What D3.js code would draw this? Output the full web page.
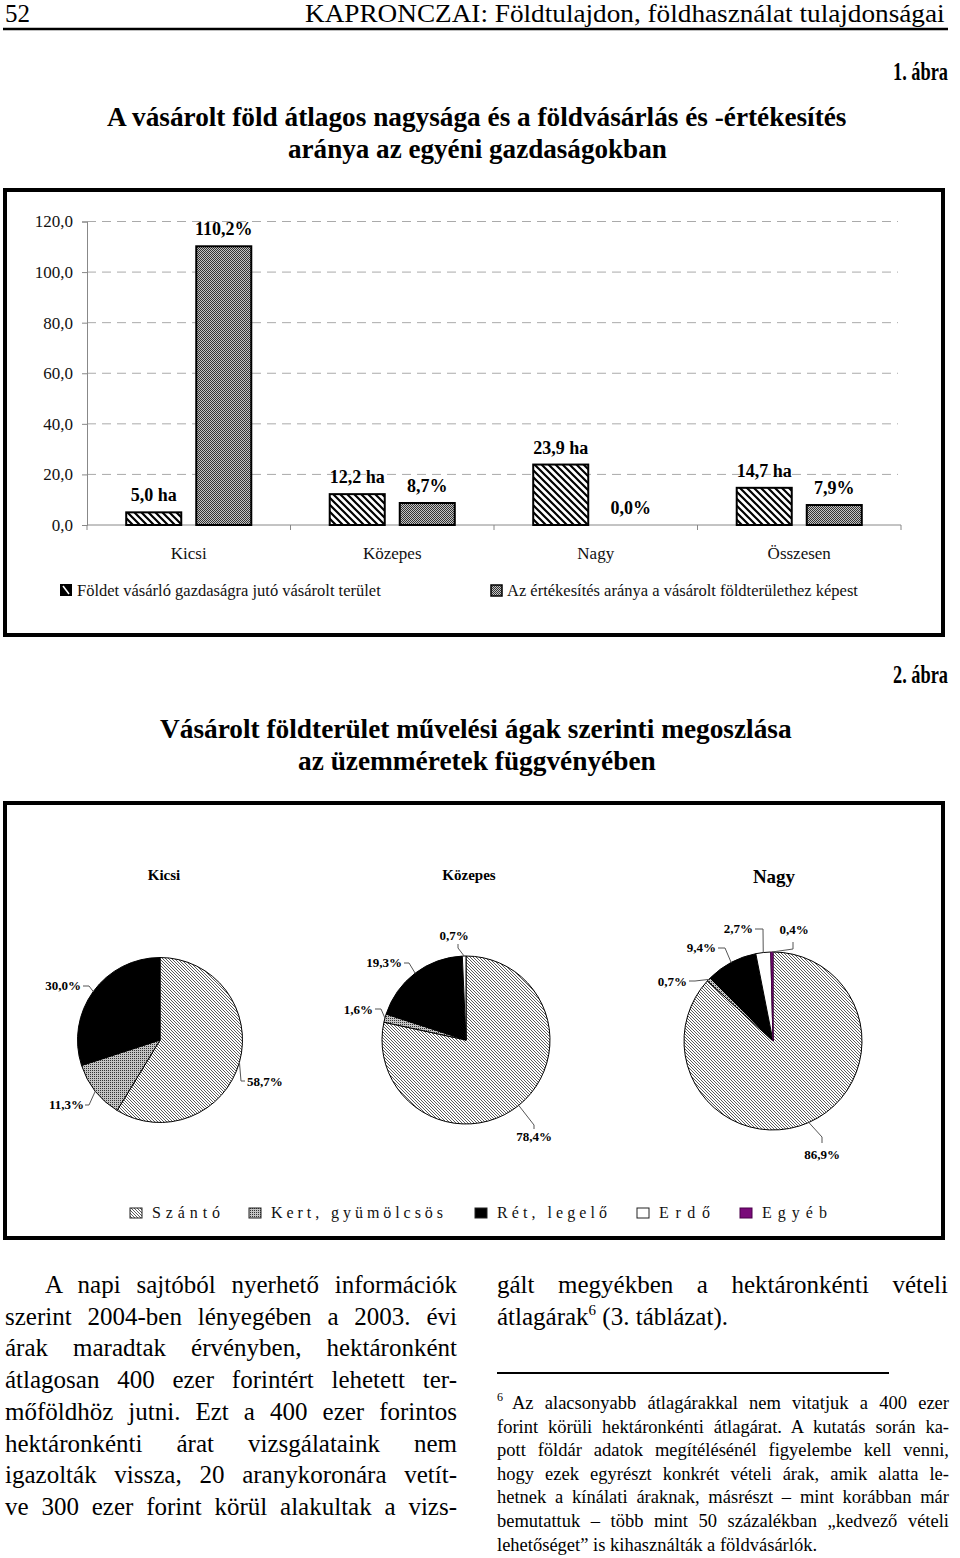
<!DOCTYPE html>
<html><head><meta charset="utf-8">
<script src="https://cdn.jsdelivr.net/npm/d3@7"></script>
<style>body{margin:0;background:#fff} svg{display:block}</style>
</head><body>
<svg id="c" width="960" height="1558"></svg>
<script>
// ---------- DATA ----------
const categories = ["Kicsi", "Közepes", "Nagy", "Összesen"];
const areaPerFarm = [5.0, 12.2, 23.9, 14.7];      // ha
const salesShare = [110.2, 8.7, 0.0, 7.9];        // %
const yTicks = [0, 20, 40, 60, 80, 100, 120];
const barSeriesNames = ["Földet vásárló gazdaságra jutó vásárolt terület",
                        "Az értékesítés aránya a vásárolt földterülethez képest"];

const pieFarms = ["Kicsi", "Közepes", "Nagy"];
const landUses = ["Szántó", "Kert, gyümölcsös", "Rét, legelő", "Erdő", "Egyéb"];
const pieKicsi = [58.7, 11.3, 30.0, 0, 0];
const pieKozepes = [78.4, 1.6, 19.3, 0.7, 0];
const pieNagy = [86.9, 0.7, 9.4, 2.7, 0.4];

const headerLeft = "52";
const headerRight = "KAPRONCZAI: Földtulajdon, földhasználat tulajdonságai";
const fig1Label = "1. ábra";
const fig1Title = ["A vásárolt föld átlagos nagysága és a földvásárlás és -értékesítés",
                   "aránya az egyéni gazdaságokban"];
const fig2Label = "2. ábra";
const fig2Title = ["Vásárolt földterület művelési ágak szerinti megoszlása",
                   "az üzemméretek függvényében"];
const bodyLeft = ["A napi sajtóból nyerhető információk",
  "szerint 2004-ben lényegében a 2003. évi",
  "árak maradtak érvényben, hektáronként",
  "átlagosan 400 ezer forintért lehetett ter-",
  "mőföldhöz jutni. Ezt a 400 ezer forintos",
  "hektáronkénti árat vizsgálataink nem",
  "igazolták vissza, 20 aranykoronára vetít-",
  "ve 300 ezer forint körül alakultak a vizs-"];
const bodyRight1 = "gált megyékben a hektáronkénti vételi";
const footnote = ["Az alacsonyabb átlagárakkal nem vitatjuk a 400 ezer",
  "forint körüli hektáronkénti átlagárat. A kutatás során ka-",
  "pott földár adatok megítélésénél figyelembe kell venni,",
  "hogy ezek egyrészt konkrét vételi árak, amik alatta le-",
  "hetnek a kínálati áraknak, másrészt – mint korábban már",
  "bemutattuk – több mint 50 százalékban „kedvező vételi",
  "lehetőséget” is kihasználták a földvásárlók."];

// ---------- SETUP ----------
const svg = d3.select("#c");
const serif = "'Liberation Serif','Times New Roman',serif";
const fmt1 = v => d3.format(".1f")(v).replace(".", ",");

const defs = svg.append("defs");
function hatch(id, s, stroke, sw, bg) {
  const p = defs.append("pattern").attr("id", id).attr("patternUnits", "userSpaceOnUse")
    .attr("width", s).attr("height", s);
  p.append("rect").attr("width", s).attr("height", s).attr("fill", bg);
  p.append("path").attr("d", `M0,0L${s},${s}M${s - 2},-2L${s + 2},2M-2,${s - 2}L2,${s + 2}`)
    .attr("stroke", stroke).attr("stroke-width", sw).attr("fill", "none");
}
function dots(id, bg, fg, two) {
  const p = defs.append("pattern").attr("id", id).attr("patternUnits", "userSpaceOnUse")
    .attr("width", 2).attr("height", 2);
  p.append("rect").attr("width", 2).attr("height", 2).attr("fill", bg);
  p.append("rect").attr("width", 1).attr("height", 1).attr("fill", fg);
  if (two) p.append("rect").attr("x", 1).attr("y", 1).attr("width", 1).attr("height", 1).attr("fill", fg);
}
hatch("barHatch", 7, "#000", 2.2, "#fff");
dots("barDots", "#c4c4c4", "#333", true);
hatch("pieHatch", 3, "#4a4a4a", 0.9, "#fff");
dots("pieDots", "#c4c4c4", "#333", false);

function txt(g, s, x, y, size, opts = {}) {
  const t = g.append("text").attr("x", x).attr("y", y).attr("font-family", serif)
    .attr("font-size", size).attr("fill", opts.fill || "#000").text(s);
  if (opts.bold) t.attr("font-weight", "bold");
  if (opts.anchor) t.attr("text-anchor", opts.anchor);
  if (opts.len) t.attr("textLength", opts.len).attr("lengthAdjust", opts.adjust || "spacingAndGlyphs");
  return t;
}
// horizontally scale a text so it spans [x0, x0+width]
function fit(g, s, x0, y0, width, size, opts = {}) {
  const t = txt(g, s, 0, 0, size, opts);
  const w = t.node().getComputedTextLength();
  t.attr("transform", `translate(${x0},${y0}) scale(${width / w},1)`);
  return t;
}

// ---------- PAGE HEADER ----------
fit(svg, headerLeft, 5, 22, 25, 26);
fit(svg, headerRight, 305, 22, 640, 26);
svg.append("line").attr("x1", 3).attr("x2", 948).attr("y1", 29).attr("y2", 29)
  .attr("stroke", "#000").attr("stroke-width", 2.5);

fit(svg, fig1Label, 893, 80, 55, 25, {bold: true});
fit(svg, fig1Title[0], 107, 126, 740, 27, {bold: true});
fit(svg, fig1Title[1], 288, 158, 379, 27, {bold: true});

// ---------- FIGURE 1: BAR CHART ----------
svg.append("rect").attr("x", 5).attr("y", 190).attr("width", 938).attr("height", 445)
  .attr("fill", "none").attr("stroke", "#000").attr("stroke-width", 4);

const x = d3.scaleBand().domain(categories).range([87, 901]);
const xs = d3.scaleBand().domain([0, 1]).range([0, x.bandwidth()]).paddingInner(15 / 70).paddingOuter(0.56);
const y = d3.scaleLinear().domain([0, 120]).range([525, 221.5]);

const g1 = svg.append("g");
// gridlines
g1.selectAll(".grid").data(yTicks.filter(v => v > 0)).join("line")
  .attr("x1", 87).attr("x2", 898).attr("y1", d => y(d)).attr("y2", d => y(d))
  .attr("stroke", "#aaa").attr("stroke-width", 1).attr("stroke-dasharray", "9,6");

// y axis
const yAxis = g1.append("g").attr("transform", "translate(87,0)")
  .call(d3.axisLeft(y).tickValues(yTicks).tickSize(5).tickPadding(9).tickFormat(fmt1));
yAxis.select(".domain").attr("stroke", "#888");
yAxis.selectAll(".tick line").attr("stroke", "#888");
yAxis.selectAll("text").attr("font-family", serif).attr("font-size", 17).attr("fill", "#111");

// x axis
g1.append("line").attr("x1", 87).attr("x2", 901).attr("y1", y(0)).attr("y2", y(0)).attr("stroke", "#888");
const bounds = categories.map(c => x(c)).concat([x.range()[1]]);
g1.selectAll(".xt").data(bounds).join("line")
  .attr("x1", d => d).attr("x2", d => d).attr("y1", y(0)).attr("y2", y(0) + 5).attr("stroke", "#888");
g1.selectAll(".xl").data(categories).join("text")
  .attr("x", d => x(d) + x.bandwidth() / 2).attr("y", 559).attr("text-anchor", "middle")
  .attr("font-family", serif).attr("font-size", 17).attr("fill", "#111").text(d => d);

// bars
const series = [
  {vals: areaPerFarm, fill: "url(#barHatch)", lab: v => fmt1(v) + " ha"},
  {vals: salesShare, fill: "url(#barDots)", lab: v => fmt1(v) + "%"}
];
series.forEach((s, si) => {
  const rows = categories.map((c, i) => ({c, v: s.vals[i]}));
  g1.selectAll(".bar" + si).data(rows.filter(r => r.v > 0)).join("rect")
    .attr("x", d => x(d.c) + xs(si)).attr("width", xs.bandwidth())
    .attr("y", d => y(d.v)).attr("height", d => y(0) - y(d.v))
    .attr("fill", s.fill).attr("stroke", "#000").attr("stroke-width", 2);
  g1.selectAll(".bl" + si).data(rows).join("text")
    .attr("x", d => x(d.c) + xs(si) + xs.bandwidth() / 2).attr("y", d => y(d.v) - 11)
    .attr("text-anchor", "middle").attr("font-family", serif).attr("font-weight", "bold")
    .attr("font-size", 18).text(d => s.lab(d.v));
});

// legend
const leg1 = [{x: 60, name: barSeriesNames[0], kind: 0}, {x: 490, name: barSeriesNames[1], kind: 1}];
leg1.forEach(l => {
  if (l.kind === 0) {
    g1.append("rect").attr("x", l.x).attr("y", 584).attr("width", 12).attr("height", 12).attr("fill", "#000");
    g1.append("line").attr("x1", l.x + 3).attr("y1", 586).attr("x2", l.x + 9).attr("y2", 594)
      .attr("stroke", "#fff").attr("stroke-width", 1.6);
  } else {
    g1.append("rect").attr("x", l.x + 1).attr("y", 585).attr("width", 11).attr("height", 11)
      .attr("fill", "url(#barDots)").attr("stroke", "#000").attr("stroke-width", 1.5);
  }
  txt(g1, l.name, l.x + 17, 596, 16.5, {fill: "#111"});
});

// ---------- FIGURE 2: PIES ----------
fit(svg, fig2Label, 893, 683, 55, 25, {bold: true});
fit(svg, fig2Title[0], 160, 738, 632, 27, {bold: true});
fit(svg, fig2Title[1], 298, 770, 358, 27, {bold: true});

svg.append("rect").attr("x", 5).attr("y", 803).attr("width", 938).attr("height", 435)
  .attr("fill", "none").attr("stroke", "#000").attr("stroke-width", 4);

const pieFills = ["url(#pieHatch)", "url(#pieDots)", "#000", "#fff", "#7a0a7a"];
const pieData = [pieKicsi, pieKozepes, pieNagy];
const pieLayout = [
  {cx: 160, cy: 1040, r: 82.5, tx: 164, ty: 880, ts: 15, labels: {
    0: {pts: [[241, 1081], [245, 1081]], x: 247, y: 1086, a: "start"},
    1: {pts: [[89, 1105], [85, 1105]], x: 84, y: 1109, a: "end"},
    2: {pts: [[89, 986], [83, 986]], x: 81, y: 990, a: "end"}}},
  {cx: 466, cy: 1040, r: 84, tx: 469, ty: 880, ts: 15, labels: {
    0: {pts: [[534, 1125], [534, 1129]], x: 534, y: 1141, a: "middle"},
    1: {pts: [[381, 1009], [375, 1009]], x: 373, y: 1014, a: "end"},
    2: {pts: [[409, 963], [404, 963]], x: 402, y: 967, a: "end"},
    3: {pts: [[458, 948], [458, 944]], x: 454, y: 940, a: "middle"}}},
  {cx: 773, cy: 1041, r: 89, tx: 774, ty: 883, ts: 19, labels: {
    0: {pts: [[822, 1137], [822, 1143]], x: 822, y: 1159, a: "middle"},
    1: {pts: [[695, 981], [689, 981]], x: 687, y: 986, a: "end"},
    2: {pts: [[725, 948], [718, 948]], x: 716, y: 952, a: "end"},
    3: {pts: [[763, 929], [755, 929]], x: 753, y: 933, a: "end"},
    4: {pts: [[793, 949], [793, 942]], x: 794, y: 934, a: "middle"}}}
];
const pieGen = d3.pie().sort(null).value(d => d.v);
pieData.forEach((vals, pi) => {
  const L = pieLayout[pi];
  const g = svg.append("g");
  txt(g, pieFarms[pi], L.tx, L.ty, L.ts, {bold: true, anchor: "middle"});
  const arcs = pieGen(vals.map((v, i) => ({v, i})));
  const arc = d3.arc().innerRadius(0).outerRadius(L.r);
  const pg = g.append("g").attr("transform", `translate(${L.cx},${L.cy})`);
  pg.selectAll("path").data(arcs.filter(a => a.data.v > 0)).join("path")
    .attr("d", arc).attr("fill", d => pieFills[d.data.i])
    .attr("stroke", d => d.data.i === 4 ? "#4a004a" : "#000").attr("stroke-width", 1);
  arcs.filter(a => a.data.v > 0).forEach(a => {
    const lab = L.labels[a.data.i];
    if (!lab) return;
    const mid = (a.startAngle + a.endAngle) / 2;
    const p0 = [L.cx + L.r * Math.sin(mid), L.cy - L.r * Math.cos(mid)];
    g.append("path").attr("d", d3.line()([p0].concat(lab.pts)))
      .attr("fill", "none").attr("stroke", "#555").attr("stroke-width", 1);
    txt(g, fmt1(a.data.v) + "%", lab.x, lab.y, 13, {bold: true, anchor: lab.a});
  });
});

// pie legend
const legX = [130, 249, 475, 637, 740];
const legW = [68, 172, 110, 51, 65];
landUses.forEach((name, i) => {
  svg.append("rect").attr("x", legX[i]).attr("y", 1208).attr("width", 12).attr("height", 10)
    .attr("fill", pieFills[i]).attr("stroke", i === 4 ? "#4a004a" : "#222").attr("stroke-width", 1);
  txt(svg, name, legX[i] + 22, 1218, 16, {len: legW[i], adjust: "spacing", fill: "#111"});
});

// ---------- BODY TEXT ----------
function justify(sel, width) {
  sel.each(function () {
    const t = d3.select(this);
    const len = this.getComputedTextLength();
    const n = t.text().split(" ").length - 1;
    if (n > 0) t.style("word-spacing", ((width - len) / n) + "px");
  });
}
bodyLeft.forEach((line, i) => {
  const x0 = i === 0 ? 45 : 5;
  const t = txt(svg, line, x0, 1293 + i * 31.7, 25);
  justify(t, 457 - x0);
});
const r1 = txt(svg, bodyRight1, 497, 1293, 25);
justify(r1, 451);
const r2 = svg.append("text").attr("x", 497).attr("y", 1324.7).attr("font-family", serif).attr("font-size", 25);
r2.append("tspan").text("átlagárak");
r2.append("tspan").attr("font-size", 15).attr("dy", -10).text("6");
r2.append("tspan").attr("dy", 10).text(" (3. táblázat).");

svg.append("line").attr("x1", 497).attr("x2", 889).attr("y1", 1373).attr("y2", 1373)
  .attr("stroke", "#000").attr("stroke-width", 2);

txt(svg, "6", 497, 1401, 12);
footnote.forEach((line, i) => {
  const x0 = i === 0 ? 512 : 497;
  const t = txt(svg, line, x0, 1409 + i * 23.6, 18.5);
  if (i < footnote.length - 1) justify(t, 949 - x0);
});
</script>
</body></html>
